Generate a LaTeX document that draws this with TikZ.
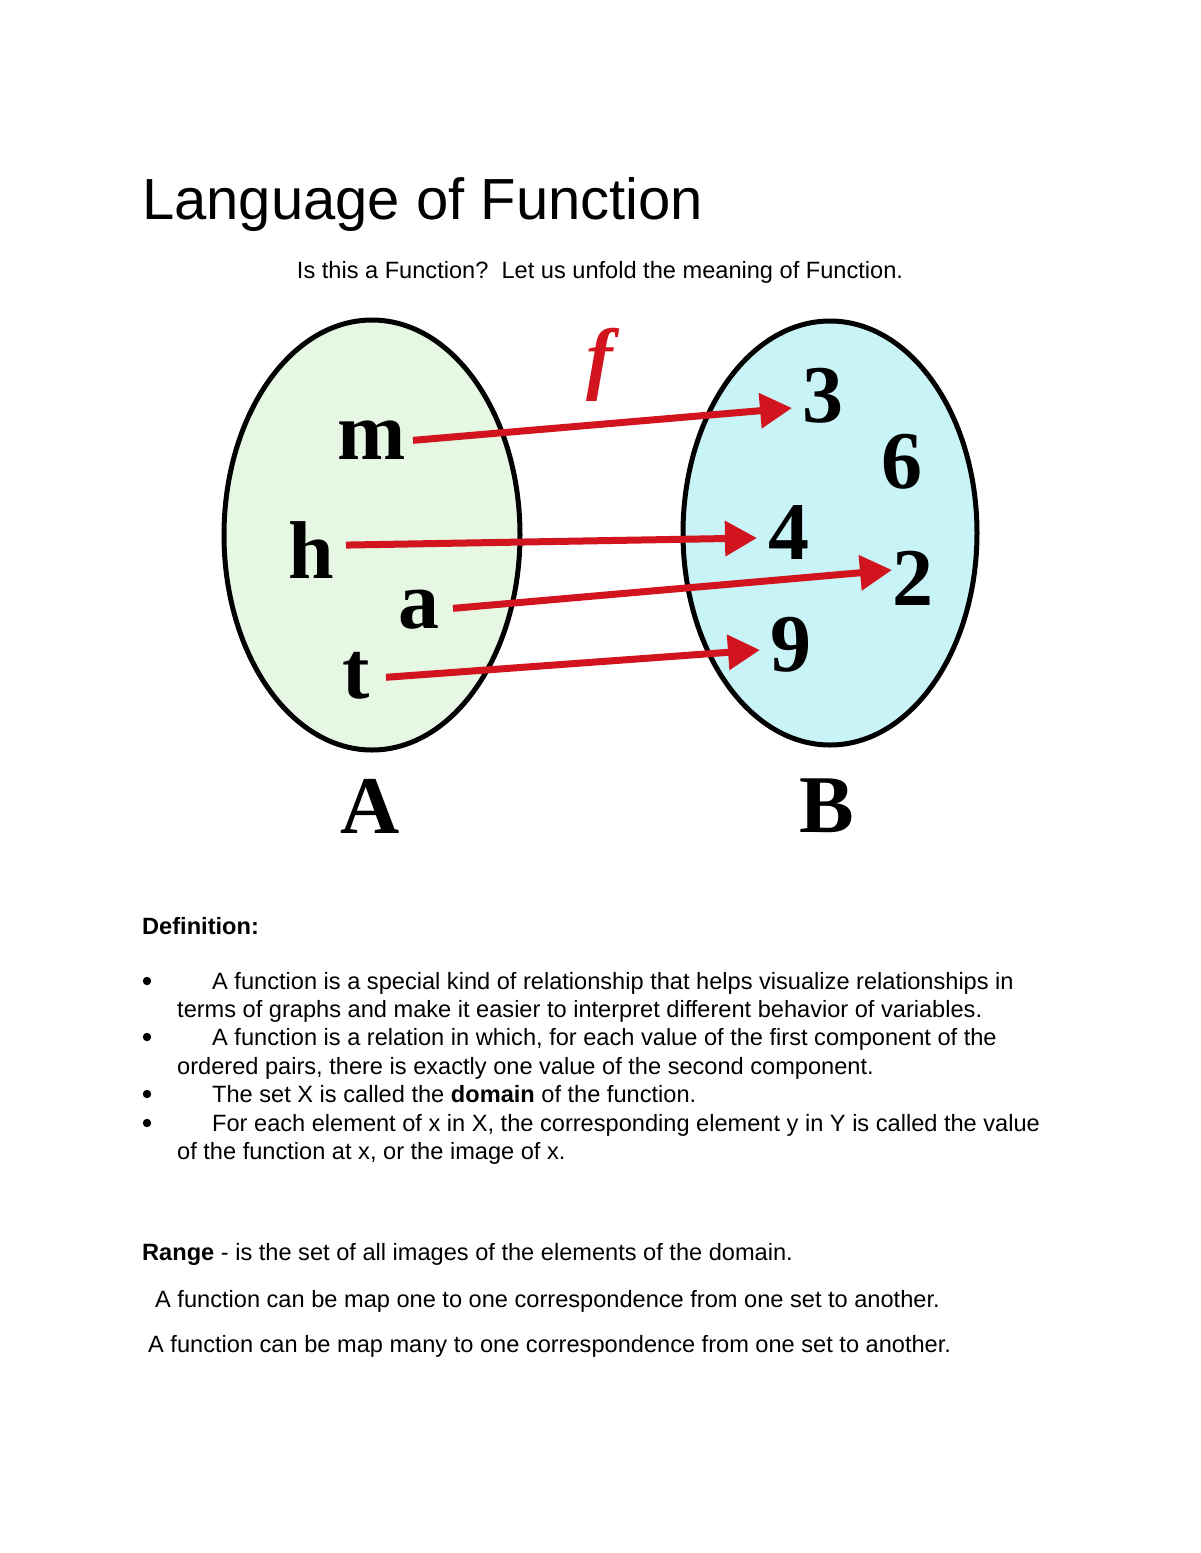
\documentclass[tikz,border=0pt]{standalone}
\usepackage{fontspec}
\setmainfont{Liberation Sans}
\newfontfamily\tms{Liberation Serif}
\usetikzlibrary{arrows.meta}
\definecolor{agreen}{RGB}{230,248,228}
\definecolor{bcyan}{RGB}{200,244,248}
\definecolor{ared}{RGB}{210,20,30}
\begin{document}
\begin{tikzpicture}[x=1pt,y=-1pt,
  lt/.style={font=\tms\bfseries\fontsize{82}{84}\selectfont,inner sep=0pt},
  tx/.style={anchor=base west,inner sep=0pt,font=\fontsize{23.6}{28}\selectfont},
  arr/.style={ared,line width=7pt,-{Triangle[length=32pt,width=34pt]},shorten <=-4pt},
  set/.style={draw=black,line width=5pt}]
\useasboundingbox (0,0) rectangle (1200,1553);
\node[tx,font=\fontsize{58}{62}\selectfont] (title) at (142,219) {Language of Function};
\node[tx,anchor=base] (sub) at (600,278) {Is this a Function?\ \ Let us unfold the meaning of Function.};
\draw[set,fill=agreen] (372,535) ellipse [x radius=148, y radius=215];
\draw[set,fill=bcyan] (830,533) ellipse [x radius=147, y radius=212];
\node[lt] (m) at (372,440) {m};
\node[lt] (h) at (311,550) {h};
\node[lt] (a) at (419,610) {a};
\node[lt] (t) at (356,676) {t};
\node[lt] (n3) at (823,396) {3};
\node[lt] (n6) at (902,462) {6};
\node[lt] (n4) at (789,533) {4};
\node[lt] (n2) at (913,578) {2};
\node[lt] (n9) at (791,645) {9};
\node[lt,font=\tms\bfseries\itshape\fontsize{80}{80}\selectfont,text=ared] (f) at (600,365) {f};
\node[lt] (A) at (370,806) {A};
\node[lt] (B) at (827,806) {B};
\coordinate (m1) at (417,440); \coordinate (m2) at (792,408);
\coordinate (h1) at (350,545); \coordinate (h2) at (757,538);
\coordinate (a1) at (457,608); \coordinate (a2) at (892,570);
\coordinate (t1) at (390,677); \coordinate (t2) at (760,650);
\draw[arr] (m1) -- (m2);
\draw[arr] (h1) -- (h2);
\draw[arr] (a1) -- (a2);
\draw[arr] (t1) -- (t2);
\node[tx] (def) at (142,934) {\textbf{Definition:}};
\foreach \y in {989,1045,1102,1131} \fill (147,\y-8) circle (4.2);
\node[tx] (l1) at (212,989) {A function is a special kind of relationship that helps visualize relationships in};
\node[tx] (l2) at (177,1017) {terms of graphs and make it easier to interpret different behavior of variables.};
\node[tx] (l3) at (212,1045) {A function is a relation in which, for each value of the first component of the};
\node[tx] (l4) at (177,1074) {ordered pairs, there is exactly one value of the second component.};
\node[tx] (l5) at (212,1102) {The set X is called the \textbf{domain} of the function.};
\node[tx] (l6) at (212,1131) {For each element of x in X, the corresponding element y in Y is called the value};
\node[tx] (l7) at (177,1159) {of the function at x, or the image of x.};
\node[tx] (r) at (142,1260) {\textbf{Range} - is the set of all images of the elements of the domain.};
\node[tx] (o1) at (155,1307) {A function can be map one to one correspondence from one set to another.};
\node[tx] (o2) at (148,1352) {A function can be map many to one correspondence from one set to another.};
\end{tikzpicture}
\end{document}
